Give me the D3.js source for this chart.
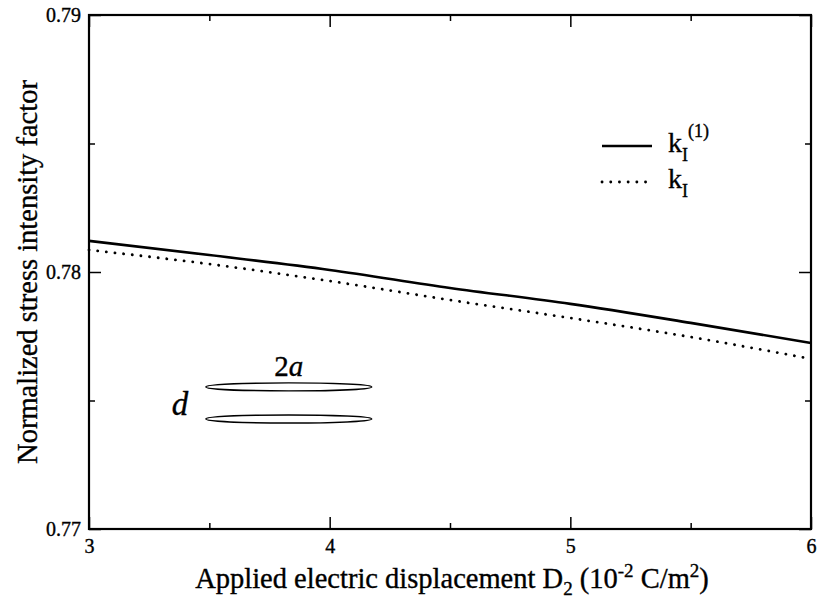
<!DOCTYPE html>
<html>
<head>
<meta charset="utf-8">
<script src="https://cdn.jsdelivr.net/npm/d3@7"></script>
<style>
  body { margin: 0; background: #fff; }
  svg { display: block; }
  text { font-family: "Liberation Serif", "Times New Roman", serif; fill: #000; stroke: #000; stroke-width: 0.35px; }
</style>
</head>
<body>
<script>
// applied electric displacement D2 (10^-2 C/m^2)
var dValues = [3, 3.5, 4, 4.5, 5, 5.5, 6];
// normalized stress intensity factors
var kI1 = [0.78121, 0.78066, 0.78008, 0.77938, 0.77876, 0.77802, 0.77724];
var kI = [0.78086, 0.78031, 0.77965, 0.77891, 0.77821, 0.77747, 0.77662];

var xTicks = [3, 4, 5, 6];
var xMinor = [3.5, 4.5, 5.5];
var yTicks = [0.77, 0.78, 0.79];
var yMinor = [0.775, 0.785];

var margin = {top: 15, right: 7, bottom: 76, left: 89},
    width = 818 - margin.left - margin.right,
    height = 605 - margin.top - margin.bottom;

var x = d3.scaleLinear().domain([3, 6]).range([0, width]);
var y = d3.scaleLinear().domain([0.77, 0.79]).range([height, 0]);

var svg = d3.select("body").append("svg")
    .attr("width", width + margin.left + margin.right)
    .attr("height", height + margin.top + margin.bottom)
  .append("g")
    .attr("transform", "translate(" + margin.left + "," + margin.top + ")");

// ticks point inward on every side
function ticksOnly(axis, vals, size) {
  return axis.tickValues(vals).tickSizeInner(-size).tickSizeOuter(0).tickFormat("");
}

svg.append("g").attr("transform", "translate(0," + height + ")")
    .call(d3.axisBottom(x).tickValues(xTicks).tickSizeInner(-12).tickSizeOuter(0)
      .tickPadding(10).tickFormat(d3.format("d")));
svg.append("g").attr("transform", "translate(0," + height + ")").call(ticksOnly(d3.axisBottom(x), xMinor, 6));
svg.append("g").call(ticksOnly(d3.axisTop(x), xTicks, 12));
svg.append("g").call(ticksOnly(d3.axisTop(x), xMinor, 6));

svg.append("g")
    .call(d3.axisLeft(y).tickValues(yTicks).tickSizeInner(-12).tickSizeOuter(0)
      .tickPadding(8).tickFormat(d3.format(".2f")));
svg.append("g").call(ticksOnly(d3.axisLeft(y), yMinor, 6));
svg.append("g").attr("transform", "translate(" + width + ",0)").call(ticksOnly(d3.axisRight(y), yTicks, 12));
svg.append("g").attr("transform", "translate(" + width + ",0)").call(ticksOnly(d3.axisRight(y), yMinor, 6));

svg.selectAll(".domain").remove();
svg.selectAll(".tick line").attr("stroke", "#000").attr("stroke-width", 1.5);
svg.selectAll(".tick text")
    .attr("font-size", 20).attr("font-family", "Liberation Serif")
    .style("font-size", "20px");

// frame
svg.append("rect")
    .attr("width", width).attr("height", height)
    .attr("fill", "none").attr("stroke", "#000").attr("stroke-width", 2.2);

// curves
var line = d3.line()
    .x(function(d) { return x(d[0]); })
    .y(function(d) { return y(d[1]); })
    .curve(d3.curveMonotoneX);

svg.append("path")
    .datum(dValues.map(function(d, i) { return [d, kI1[i]]; }))
    .attr("d", line)
    .attr("fill", "none").attr("stroke", "#000").attr("stroke-width", 2.6);

svg.append("path")
    .datum(dValues.map(function(d, i) { return [d, kI[i]]; }))
    .attr("d", line)
    .attr("fill", "none").attr("stroke", "#000").attr("stroke-width", 2.8)
    .attr("stroke-linecap", "round").attr("stroke-dasharray", "0.1,8.6");

// legend
var leg = svg.append("g").attr("transform", "translate(" + (602 - margin.left) + "," + (146 - margin.top) + ")");
leg.append("line").attr("x1", 0).attr("x2", 50).attr("y1", 0).attr("y2", 0)
    .attr("stroke", "#000").attr("stroke-width", 2.6);
leg.append("line").attr("x1", 0).attr("x2", 50).attr("y1", 36).attr("y2", 36)
    .attr("stroke", "#000").attr("stroke-width", 2.8)
    .attr("stroke-linecap", "round").attr("stroke-dasharray", "0.1,8.6");

var l1 = leg.append("text").attr("x", 66).attr("y", 6).style("font-size", "28px");
l1.append("tspan").text("k");
l1.append("tspan").attr("dy", 9).style("font-size", "18px").text("I");
l1.append("tspan").attr("dy", -24).style("font-size", "18px").text("(1)");

var l2 = leg.append("text").attr("x", 66).attr("y", 42).style("font-size", "28px");
l2.append("tspan").text("k");
l2.append("tspan").attr("dy", 9).style("font-size", "18px").text("I");

// two parallel cracks sketch
var sketch = svg.append("g");
[0.77553, 0.77428].forEach(function(v) {
  sketch.append("ellipse")
      .attr("cx", x(3.83)).attr("cy", y(v))
      .attr("rx", 83).attr("ry", 4)
      .attr("fill", "none").attr("stroke", "#000").attr("stroke-width", 1.4);
});
var t2a = sketch.append("text").attr("x", x(3.83)).attr("y", y(0.77553) - 11)
    .attr("text-anchor", "middle").style("font-size", "29px");
t2a.append("tspan").text("2");
t2a.append("tspan").style("font-style", "italic").text("a");
sketch.append("text").attr("x", x(3.83) - 117).attr("y", y(0.77428) - 4)
    .style("font-size", "33px").style("font-style", "italic").text("d");

// axis titles
var xt = svg.append("text")
    .attr("x", width / 2 + 2).attr("y", height + 59)
    .attr("text-anchor", "middle").style("font-size", "28.5px");
xt.append("tspan").text("Applied electric displacement D");
xt.append("tspan").attr("dy", 7).style("font-size", "19px").text("2");
xt.append("tspan").attr("dy", -7).text(" (10");
xt.append("tspan").attr("dy", -11).style("font-size", "19px").text("-2");
xt.append("tspan").attr("dy", 11).text(" C/m");
xt.append("tspan").attr("dy", -11).style("font-size", "19px").text("2");
xt.append("tspan").attr("dy", 11).text(")");

svg.append("text")
    .attr("transform", "translate(" + (37 - margin.left) + "," + (height / 2) + ") rotate(-90)")
    .attr("text-anchor", "middle").style("font-size", "28.5px")
    .text("Normalized stress intensity factor");
</script>
</body>
</html>
